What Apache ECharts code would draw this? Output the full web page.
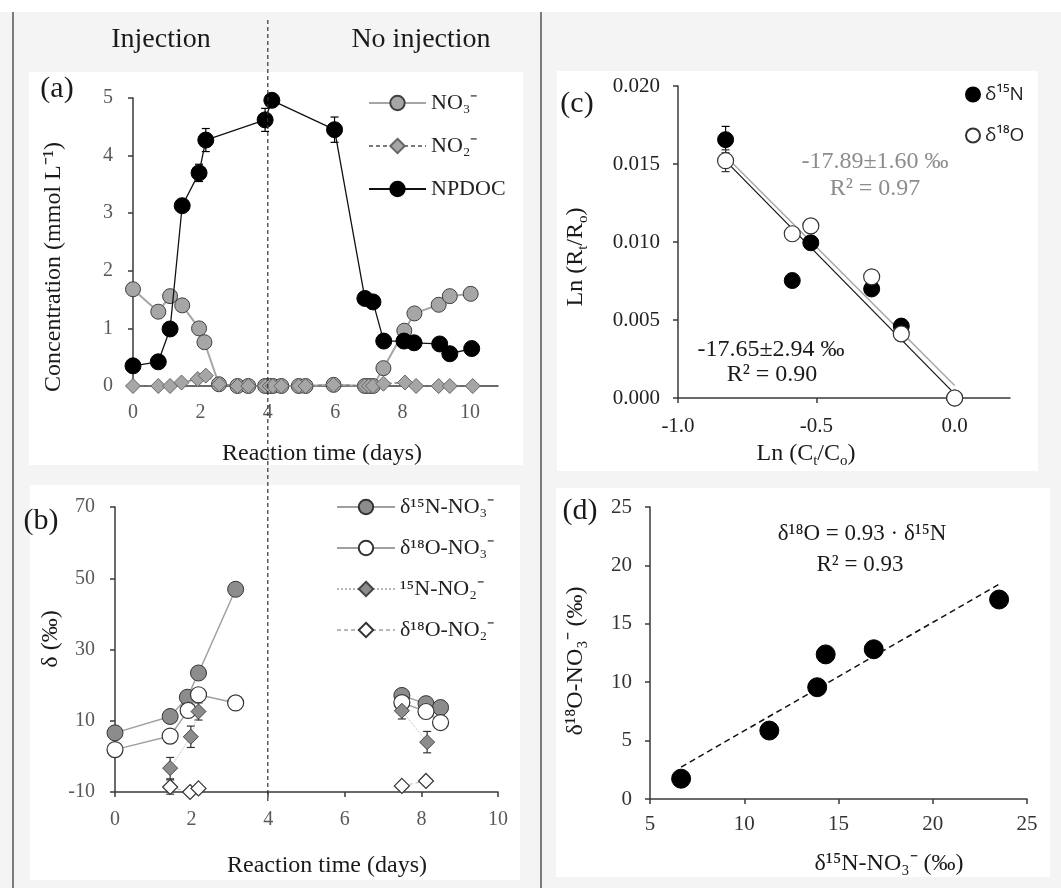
<!DOCTYPE html>
<html>
<head>
<meta charset="utf-8">
<script src="https://cdn.jsdelivr.net/npm/echarts@6/dist/echarts.min.js"></script>
<style>
  html, body { margin: 0; padding: 0; background: #ffffff; }
  #chart { width: 1061px; height: 888px; }
</style>
</head>
<body>
<div id="chart"></div>
<script>
// ---------- (a) concentrations vs. reaction time ----------
const dayNO3 = [0, 0.75, 1.1, 1.46, 1.96, 2.12, 2.55, 3.1, 3.42, 3.92, 4.05, 4.15, 4.4, 4.92, 5.12, 5.95, 6.88, 7.0, 7.12, 7.43, 8.05, 8.35, 9.07, 9.4, 10.02];
const valNO3 = [1.68, 1.29, 1.56, 1.40, 1.00, 0.76, 0.03, 0, 0, 0, 0, 0, 0, 0, 0, 0.02, 0, 0, 0, 0.31, 0.96, 1.26, 1.41, 1.56, 1.60];

const dayNO2 = [0, 0.75, 1.1, 1.44, 1.92, 2.16, 2.56, 3.1, 3.42, 3.92, 4.05, 4.15, 4.4, 4.92, 5.12, 5.95, 6.88, 7.0, 7.12, 7.43, 8.07, 8.4, 9.07, 9.4, 10.08];
const valNO2 = [0, 0, 0, 0.06, 0.12, 0.18, 0.03, 0, 0, 0, 0, 0, 0, 0, 0, 0.02, 0, 0, 0, 0.04, 0.06, 0, 0, 0, 0];

const dayDOC = [0, 0.75, 1.1, 1.46, 1.96, 2.16, 3.92, 4.12, 5.98, 6.88, 7.12, 7.44, 8.04, 8.34, 9.1, 9.4, 10.05];
const valDOC = [0.35, 0.42, 0.99, 3.13, 3.70, 4.27, 4.62, 4.96, 4.45, 1.52, 1.46, 0.78, 0.78, 0.75, 0.73, 0.56, 0.65];
const errDOC = [0, 0, 0, 0.05, 0.15, 0.2, 0.2, 0.1, 0.22, 0, 0, 0, 0, 0, 0, 0, 0];

const ticksA_x = [0, 2, 4, 6, 8, 10];
const ticksA_y = [0, 1, 2, 3, 4, 5];

// ---------- (b) isotope ratios vs. reaction time (null = gap) ----------
const dayN15NO3 = [0, 1.44, 1.89, 2.18, 3.15, null, 7.49, 8.12, 8.5];
const valN15NO3 = [6.6, 11.2, 16.6, 23.4, 46.9, null, 17.1, 14.8, 13.7];

const dayO18NO3 = [0, 1.44, 1.91, 2.18, 3.15, null, 7.49, 8.12, 8.5];
const valO18NO3 = [1.9, 5.7, 12.9, 17.3, 15.0, null, 15.1, 12.6, 9.5];

const dayN15NO2 = [1.44, 1.98, 2.18, null, 7.49, 8.15];
const valN15NO2 = [-3.3, 5.5, 12.6, null, 12.8, 4.0];
const errN15NO2 = [3.0, 3.0, 2.4, null, 2.3, 3.0];

const dayO18NO2 = [1.44, 1.96, 2.18, null, 7.49, 8.12];
const valO18NO2 = [-8.6, -10.0, -9.0, null, -8.3, -6.9];
const errO18NO2 = [2.0, 0, 0, null, 0, 0];

const ticksB_x = [0, 2, 4, 6, 8, 10];
const ticksB_y = [-10, 10, 30, 50, 70];

// ---------- (c) Rayleigh plot ----------
const lnC = [-0.828, -0.587, -0.520, -0.300, -0.193, 0];
const lnR15N = [0.01656, 0.00753, 0.00995, 0.00699, 0.00461, 0];
const lnR18O = [0.01521, 0.01053, 0.01103, 0.00777, 0.00411, 0];
const errR15N = [0.00085, 0, 0, 0, 0, 0];
const errR18O = [0.0007, 0, 0, 0, 0, 0];
const fitX_c = [-0.828, 0];
const fit15N_c = [0.0152, 0.00026];
const fit18O_c = [0.0155, 0.0008];

const ticksC_x = [-1, -0.5, 0];
const ticksC_y = [0, 0.005, 0.010, 0.015, 0.020];

// ---------- (d) dual isotope plot ----------
const d15N = [6.65, 11.33, 13.87, 14.32, 16.87, 23.52];
const d18O = [1.74, 5.86, 9.57, 12.38, 12.82, 17.08];
const errD18O = [0, 0, 0, 0, 0, 0.5];
const fitX_d = [6.65, 23.52];
const fitY_d = [2.73, 18.39];

const ticksD_x = [5, 10, 15, 20, 25];
const ticksD_y = [0, 5, 10, 15, 20, 25];

// ---------- helpers ----------
const SERIF = "'Liberation Serif', 'Times New Roman', serif";
const SANS = "'Open Sans', 'Noto Sans', sans-serif";

const pairs = (xs, ys) => xs.map((x, i) => (x === null ? ['-', '-'] : [x, ys[i]]));
const triples = (xs, ys, es) =>
  xs.map((x, i) => [x, ys[i], es[i]]).filter(d => d[0] !== null && d[2] > 0);

function errorBars(idx, data, color) {
  return {
    type: 'custom',
    xAxisIndex: idx,
    yAxisIndex: idx,
    data: data,
    z: 2,
    silent: true,
    encode: { x: 0, y: 1 },
    renderItem(params, api) {
      const x = api.value(0), y = api.value(1), e = api.value(2);
      const hi = api.coord([x, y + e]);
      const lo = api.coord([x, y - e]);
      const w = 4;
      const st = { stroke: color, lineWidth: 1.2 };
      return {
        type: 'group',
        children: [
          { type: 'line', shape: { x1: hi[0], y1: hi[1], x2: lo[0], y2: lo[1] }, style: st },
          { type: 'line', shape: { x1: hi[0] - w, y1: hi[1], x2: hi[0] + w, y2: hi[1] }, style: st },
          { type: 'line', shape: { x1: lo[0] - w, y1: lo[1], x2: lo[0] + w, y2: lo[1] }, style: st }
        ]
      };
    }
  };
}

function valueAxis(grid, min, max, ticks, opts) {
  const o = Object.assign({
    labelColor: '#595959', margin: 16, showTick: true, fmt: null, size: 20
  }, opts || {});
  return {
    type: 'value',
    gridIndex: grid,
    min: min,
    max: max,
    splitLine: { show: false },
    axisLine: { show: true, onZero: false, lineStyle: { color: '#3a3a3a', width: 1.5 } },
    axisTick: {
      show: o.showTick, customValues: ticks, length: 5,
      lineStyle: { color: '#3a3a3a', width: 1.5 }
    },
    axisLabel: {
      customValues: ticks, margin: o.margin, color: o.labelColor,
      fontFamily: SERIF, fontSize: o.size,
      formatter: o.fmt || (v => String(v))
    }
  };
}

const chart = echarts.init(document.getElementById('chart'), null, { renderer: 'canvas' });

const option = {
  animation: false,
  backgroundColor: '#f4f4f4',
  grid: [
    { left: 133, top: 98, width: 365, height: 288 },
    { left: 115, top: 507, width: 383, height: 285 },
    { left: 678, top: 86, width: 332, height: 312 },
    { left: 650, top: 507, width: 377, height: 292 }
  ],
  xAxis: [
    valueAxis(0, 0, 10.83, ticksA_x, { showTick: false, margin: 17 }),
    valueAxis(1, 0, 10, ticksB_x, { margin: 18 }),
    valueAxis(2, -1, 0.2, ticksC_x, { margin: 18, labelColor: '#222', size: 21, fmt: v => v.toFixed(1) }),
    valueAxis(3, 5, 25, ticksD_x, { margin: 15, labelColor: '#333', size: 21 })
  ],
  yAxis: [
    valueAxis(0, 0, 5, ticksA_y, { margin: 20 }),
    valueAxis(1, -10, 70, ticksB_y, { margin: 20 }),
    valueAxis(2, 0, 0.02, ticksC_y, { margin: 18, labelColor: '#222', size: 21, fmt: v => v.toFixed(3) }),
    valueAxis(3, 0, 25, ticksD_y, { margin: 18, labelColor: '#333', size: 21 })
  ],
  legend: [
    {
      data: ['NO₃⁻', 'NO₂⁻', 'NPDOC'],
      left: 368, top: 92, orient: 'vertical', padding: 0,
      itemWidth: 57, itemHeight: 18, itemGap: 21, selectedMode: false,
      textStyle: { fontFamily: SERIF, fontSize: 22, color: '#222' }
    },
    {
      data: ['δ¹⁵N-NO₃⁻', 'δ¹⁸O-NO₃⁻', '¹⁵N-NO₂⁻', 'δ¹⁸O-NO₂⁻'],
      left: 336, top: 496, orient: 'vertical', padding: 0,
      itemWidth: 58, itemHeight: 18, itemGap: 19, selectedMode: false,
      textStyle: { fontFamily: SERIF, fontSize: 22, color: '#222' }
    },
    {
      data: ['δ¹⁵N', 'δ¹⁸O'],
      left: 965, top: 85, orient: 'vertical', padding: 0,
      itemWidth: 14, itemHeight: 14, itemGap: 22, selectedMode: false,
      textStyle: { fontFamily: SANS, fontSize: 19, color: '#222' }
    }
  ],
  series: [
    // (a)
    {
      name: 'NO₃⁻', type: 'line', xAxisIndex: 0, yAxisIndex: 0,
      data: pairs(dayNO3, valNO3), showAllSymbol: true,
      symbol: 'circle', symbolSize: 15, z: 3,
      lineStyle: { color: '#a6a6a6', width: 2 },
      itemStyle: { color: '#a6a6a6', borderColor: '#3f3f3f', borderWidth: 1 }
    },
    {
      name: 'NO₂⁻', type: 'line', xAxisIndex: 0, yAxisIndex: 0,
      data: pairs(dayNO2, valNO2), showAllSymbol: true,
      symbol: 'diamond', symbolSize: 15, z: 4,
      lineStyle: { color: '#7a7a7a', width: 1.5, type: [4, 3] },
      itemStyle: { color: '#a6a6a6', borderColor: '#666', borderWidth: 1 }
    },
    errorBars(0, triples(dayDOC, valDOC, errDOC), '#000'),
    {
      name: 'NPDOC', type: 'line', xAxisIndex: 0, yAxisIndex: 0,
      data: pairs(dayDOC, valDOC), showAllSymbol: true,
      symbol: 'circle', symbolSize: 16, z: 5,
      lineStyle: { color: '#111', width: 1.3 },
      itemStyle: { color: '#000', borderColor: '#000', borderWidth: 1 }
    },
    // (b)
    {
      name: 'δ¹⁵N-NO₃⁻', type: 'line', xAxisIndex: 1, yAxisIndex: 1,
      data: pairs(dayN15NO3, valN15NO3), showAllSymbol: true,
      symbol: 'circle', symbolSize: 16, z: 3,
      lineStyle: { color: '#a0a0a0', width: 1.5 },
      itemStyle: { color: '#8c8c8c', borderColor: '#333', borderWidth: 1 }
    },
    {
      name: 'δ¹⁸O-NO₃⁻', type: 'line', xAxisIndex: 1, yAxisIndex: 1,
      data: pairs(dayO18NO3, valO18NO3), showAllSymbol: true,
      symbol: 'circle', symbolSize: 16, z: 4,
      lineStyle: { color: '#a0a0a0', width: 1.5 },
      itemStyle: { color: '#ffffff', borderColor: '#333', borderWidth: 1.2 }
    },
    errorBars(1, triples(dayN15NO2, valN15NO2, errN15NO2), '#333'),
    errorBars(1, triples(dayO18NO2, valO18NO2, errO18NO2), '#333'),
    {
      name: '¹⁵N-NO₂⁻', type: 'line', xAxisIndex: 1, yAxisIndex: 1,
      data: pairs(dayN15NO2, valN15NO2), showAllSymbol: true,
      symbol: 'diamond', symbolSize: 15, z: 5,
      lineStyle: { color: '#b8b8b8', width: 1, type: 'dotted' },
      itemStyle: { color: '#8c8c8c', borderColor: '#444', borderWidth: 1 }
    },
    {
      name: 'δ¹⁸O-NO₂⁻', type: 'line', xAxisIndex: 1, yAxisIndex: 1,
      data: pairs(dayO18NO2, valO18NO2), showAllSymbol: true,
      symbol: 'diamond', symbolSize: 15, z: 5,
      lineStyle: { color: '#b8b8b8', width: 1, type: [4, 3] },
      itemStyle: { color: '#ffffff', borderColor: '#333', borderWidth: 1.2 }
    },
    // (c)
    {
      name: 'fit δ¹⁸O', type: 'line', xAxisIndex: 2, yAxisIndex: 2,
      data: pairs(fitX_c, fit18O_c), symbol: 'none', z: 1, silent: true,
      lineStyle: { color: '#a8a8a8', width: 1.5 }
    },
    {
      name: 'fit δ¹⁵N', type: 'line', xAxisIndex: 2, yAxisIndex: 2,
      data: pairs(fitX_c, fit15N_c), symbol: 'none', z: 1, silent: true,
      lineStyle: { color: '#111', width: 1.2 }
    },
    errorBars(2, triples(lnC, lnR15N, errR15N), '#000'),
    errorBars(2, triples(lnC, lnR18O, errR18O), '#333'),
    {
      name: 'δ¹⁵N', type: 'scatter', xAxisIndex: 2, yAxisIndex: 2,
      data: pairs(lnC, lnR15N), symbol: 'circle', symbolSize: 16, z: 3,
      itemStyle: { color: '#000', borderColor: '#000', borderWidth: 1, opacity: 1 }
    },
    {
      name: 'δ¹⁸O', type: 'scatter', xAxisIndex: 2, yAxisIndex: 2,
      data: pairs(lnC, lnR18O), symbol: 'circle', symbolSize: 16, z: 4,
      itemStyle: { color: '#fff', borderColor: '#333', borderWidth: 1.2, opacity: 1 }
    },
    // (d)
    {
      name: 'fit δ¹⁸O–δ¹⁵N', type: 'line', xAxisIndex: 3, yAxisIndex: 3,
      data: pairs(fitX_d, fitY_d), symbol: 'none', z: 1, silent: true,
      lineStyle: { color: '#111', width: 1.5, type: [6, 4] }
    },
    errorBars(3, triples(d15N, d18O, errD18O), '#000'),
    {
      name: 'δ¹⁸O vs δ¹⁵N', type: 'scatter', xAxisIndex: 3, yAxisIndex: 3,
      data: pairs(d15N, d18O), symbol: 'circle', symbolSize: 19, z: 3,
      itemStyle: { color: '#000', borderColor: '#000', borderWidth: 1, opacity: 1 }
    }
  ]
};

chart.setOption(option);

// ---------- frame, panels and text ----------
function txt(text, x, y, size, opts) {
  const o = Object.assign({ color: '#1a1a1a', family: SERIF, rot: 0, rich: null }, opts || {});
  const style = {
    text: text, x: 0, y: 0, fill: o.color,
    font: size + 'px ' + o.family,
    textAlign: 'center', textVerticalAlign: 'middle'
  };
  if (o.rich) style.rich = o.rich;
  return { type: 'text', x: x, y: y, rotation: o.rot, z: 20, silent: true, style: style };
}
function panel(x, y, w, h) {
  return { type: 'rect', z: -10, silent: true, shape: { x: x, y: y, width: w, height: h }, style: { fill: '#ffffff' } };
}
function vline(x, y1, y2, color, width, dash) {
  return {
    type: 'line', z: 15, silent: true,
    shape: { x1: x, y1: y1, x2: x, y2: y2 },
    style: { stroke: color, lineWidth: width, lineDash: dash || null }
  };
}

const splitX = chart.convertToPixel({ xAxisIndex: 0 }, 4);
const subRich = {
  s: { fontSize: 15, fontFamily: SERIF, verticalAlign: 'bottom', lineHeight: 30, fill: '#1a1a1a' },
  m: { fontSize: 24, fontFamily: SERIF, lineHeight: 30, fill: '#1a1a1a' }
};

chart.setOption({
  graphic: {
    elements: [
      { type: 'rect', z: -10, silent: true, shape: { x: 0, y: 0, width: 1061, height: 12 }, style: { fill: '#ffffff' } },
      panel(29, 72, 494, 393),
      panel(30, 485, 490, 395),
      panel(557, 71, 481, 400),
      panel(556, 488, 494, 389),
      vline(13, 12, 888, '#555', 1.5),
      vline(541, 12, 888, '#555', 1.5),
      vline(splitX, 20, 802, '#333', 1.2, [4, 3]),

      txt('Injection', 161, 40, 28),
      txt('No injection', 421, 40, 28),
      txt('(a)', 57, 89, 30),
      txt('(b)', 41, 521, 30),
      txt('(c)', 577, 104, 30),
      txt('(d)', 580, 511, 30),

      txt('Concentration (mmol L⁻¹)', 54, 267, 24, { rot: Math.PI / 2 }),
      txt('Reaction time (days)', 322, 454, 24),
      txt('δ (‰)', 51, 639, 24, { rot: Math.PI / 2 }),
      txt('Reaction time (days)', 327, 866, 24),

      txt('{m|Ln (R}{s|t}{m|/R}{s|o}{m|)}', 576, 257, 24, { rot: Math.PI / 2, rich: subRich }),
      txt('{m|Ln (C}{s|t}{m|/C}{s|o}{m|)}', 806, 454, 24, { rich: subRich }),
      txt('-17.89±1.60 ‰', 875, 162, 24, { color: '#8c8c8c' }),
      txt('R² = 0.97', 875, 189, 24, { color: '#8c8c8c' }),
      txt('-17.65±2.94 ‰', 771, 350, 24),
      txt('R² = 0.90', 772, 375, 24),

      txt('δ¹⁸O-NO₃⁻ (‰)', 576, 661, 24, { rot: Math.PI / 2 }),
      txt('δ¹⁵N-NO₃⁻ (‰)', 889, 864, 24),
      txt('δ¹⁸O = 0.93 · δ¹⁵N', 862, 534, 23),
      txt('R² = 0.93', 860, 565, 23)
    ]
  }
});
</script>
</body>
</html>
